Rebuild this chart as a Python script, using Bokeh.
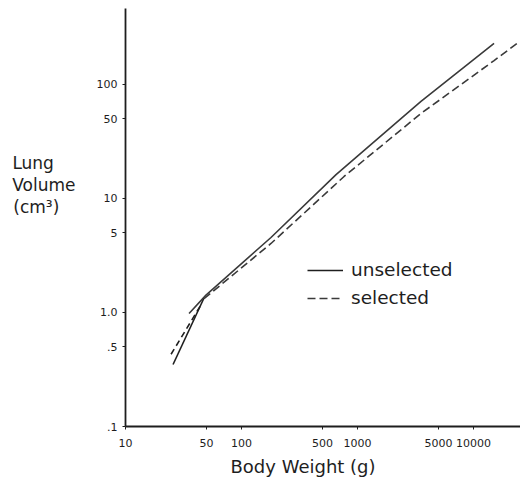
from bokeh.plotting import figure
from bokeh.models import FixedTicker, Legend, LegendItem, Title
from bokeh.embed import file_html
from bokeh.resources import INLINE

# ---- data ----
x_ticks = [10, 50, 100, 500, 1000, 5000, 10000]
x_tick_labels = ["10", "50", "100", "500", "1000", "5000", "10000"]
y_ticks = [0.1, 0.5, 1.0, 5, 10, 50, 100]
y_tick_labels = [".1", ".5", "1.0", "5", "10", "50", "100"]

unsel_small_x = [25.7, 47.5]
unsel_small_y = [0.35, 1.34]
unsel_large_x = [35.3, 49.4, 179.5, 653, 3524, 15030]
unsel_large_y = [0.98, 1.42, 4.55, 16.2, 71, 229]

sel_small_x = [24.7, 45.5]
sel_small_y = [0.43, 1.2]
sel_large_x = [47.5, 179.5, 766, 3524, 15030, 24200]
sel_large_y = [1.32, 4.03, 15.6, 55.7, 162, 233]

FONT = "DejaVu Sans"
INK = "#1e1e1e"
LINE = "#3a3a3a"
NB = "\u00a0"

p = figure(width=520, height=480, x_axis_type="log", y_axis_type="log",
           x_range=(10, 25400), y_range=(0.1, 464),
           output_backend="svg", toolbar_location=None,
           min_border_left=125, min_border_right=0, min_border_top=8,
           min_border_bottom=54, background_fill_color="white",
           border_fill_color="white", outline_line_color=None)
p.grid.visible = False

for ax, ticks, labels in ((p.xaxis[0], x_ticks, x_tick_labels), (p.yaxis[0], y_ticks, y_tick_labels)):
    ax.ticker = FixedTicker(ticks=ticks, minor_ticks=[])
    ax.major_label_overrides = {t: l for t, l in zip(ticks, labels)}
    ax.axis_line_color = INK
    ax.axis_line_width = 1.8
    ax.major_tick_line_color = INK
    ax.major_tick_out = 3
    ax.major_tick_in = 0
    ax.minor_tick_line_color = None
    ax.major_label_text_font = FONT
    ax.major_label_text_font_size = "11px"
    ax.major_label_text_color = INK
p.yaxis[0].major_label_standoff = 5
p.xaxis[0].major_label_standoff = 9

# y-axis title, horizontal and stacked (blank lines lift it to its place,
# trailing no-break spaces make the lines start at the same left edge)
p.yaxis[0].axis_label = "Lung" + NB * 4 + "\nVolume\n(cm³)" + NB * 3 + "\n\n\n"
p.yaxis[0].axis_label_orientation = "horizontal"
p.yaxis[0].axis_label_text_font = FONT
p.yaxis[0].axis_label_text_font_size = "17px"
p.yaxis[0].axis_label_text_font_style = "normal"
p.yaxis[0].axis_label_text_color = INK
p.yaxis[0].axis_label_text_line_height = 1.1
p.yaxis[0].axis_label_standoff = 18

r1 = p.line(unsel_small_x, unsel_small_y, line_color=INK, line_width=1.6)
r2 = p.line(unsel_large_x, unsel_large_y, line_color=LINE, line_width=1.6)
r3 = p.line(sel_small_x, sel_small_y, line_color=INK, line_width=1.6, line_dash="6 4")
r4 = p.line(sel_large_x, sel_large_y, line_color=LINE, line_width=1.6, line_dash="8 4")

legend = Legend(items=[LegendItem(label="unselected", renderers=[r1]),
                       LegendItem(label="selected", renderers=[r4])],
                location=(182, 118), padding=0, margin=0, spacing=7,
                glyph_width=36, glyph_height=20, label_height=20,
                label_standoff=8, label_text_font=FONT,
                label_text_font_size="18.5px", label_text_color=INK,
                border_line_color=None, background_fill_alpha=0)
p.add_layout(legend, "center")

p.add_layout(Title(text="Body Weight (g)", align="left", offset=105, standoff=8,
                   text_font=FONT, text_font_size="18px", text_font_style="normal",
                   text_color=INK), "below")

open("out.html", "w").write(file_html(p, INLINE))
